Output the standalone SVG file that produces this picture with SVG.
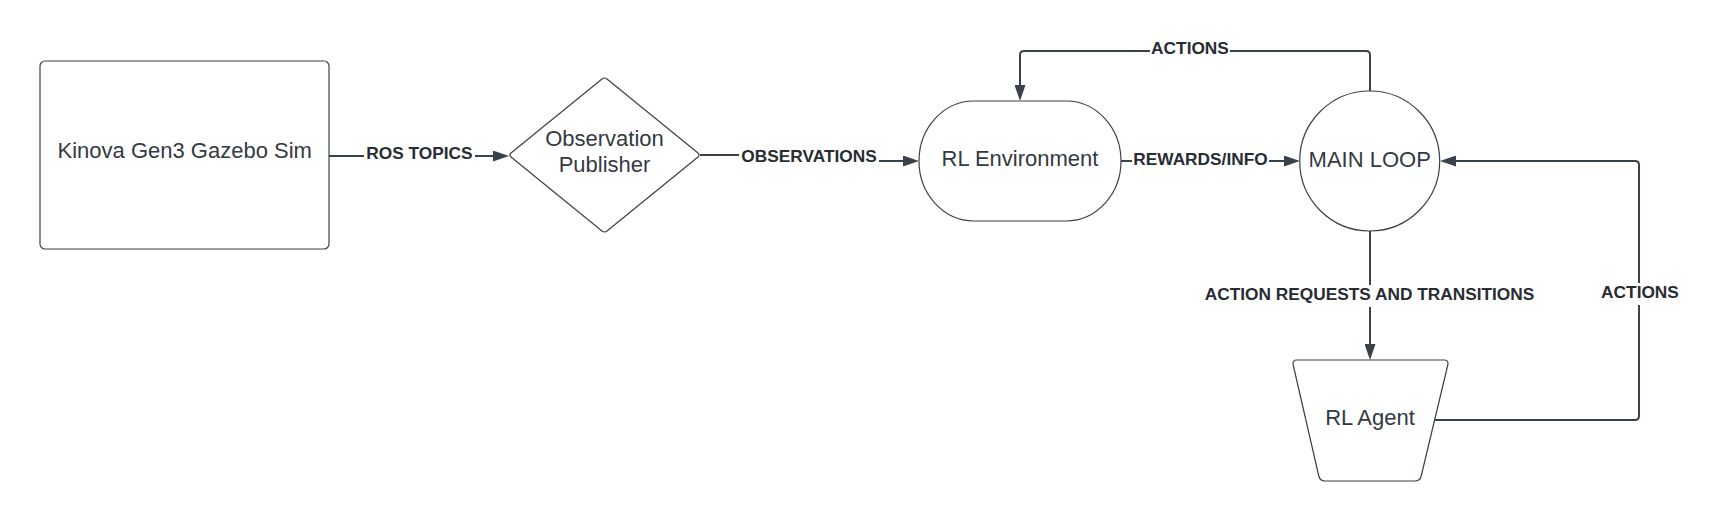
<svg xmlns="http://www.w3.org/2000/svg" width="1720" height="521" viewBox="0 0 1720 521">
<style>
.node{fill:#ffffff;stroke:#3a414a;stroke-width:1.2;stroke-linejoin:round}
.ntxt{font-family:"Liberation Sans",Arial,sans-serif;font-size:22px;fill:#333a42;text-anchor:middle}
.conn{fill:none;stroke:#3a414a;stroke-width:2}
.lbg{fill:#ffffff}
.ltxt{font-family:"Liberation Sans",Arial,sans-serif;font-size:17.3px;font-weight:bold;fill:#282c33;text-anchor:middle}
</style>
<defs>
<marker id="arr" viewBox="0 0 16 11" markerWidth="16" markerHeight="11" refX="13" refY="5.5" markerUnits="userSpaceOnUse" orient="auto">
<path d="M0,0 L16,5.5 L0,11 Z" fill="#3a414a"/>
</marker>
</defs>
<rect width="1720" height="521" fill="#ffffff"/>
<g id="connectors">
<path class="conn" d="M329,156 H506" marker-end="url(#arr)"/>
<path class="conn" d="M700,155 H809 V161 H916" marker-end="url(#arr)"/>
<path class="conn" d="M1121,161 H1297" marker-end="url(#arr)"/>
<path class="conn" d="M1370,91 V55 Q1370,51 1366,51 H1024 Q1020,51 1020,55 V98" marker-end="url(#arr)"/>
<path class="conn" d="M1370,231 V357" marker-end="url(#arr)"/>
<path class="conn" d="M1434,420 H1635 Q1639,420 1639,416 V165 Q1639,161 1635,161 H1443" marker-end="url(#arr)"/>
<g id="labels">
<rect class="lbg" x="364" y="146" width="111" height="16"/>
<text class="ltxt" x="419.5" y="159.3">ROS TOPICS</text>
<rect class="lbg" x="739" y="148" width="140" height="16"/>
<text class="ltxt" x="809" y="161.6">OBSERVATIONS</text>
<rect class="lbg" x="1132" y="151" width="137" height="16"/>
<text class="ltxt" x="1200.5" y="165">REWARDS/INFO</text>
<rect class="lbg" x="1150" y="40" width="80" height="16"/>
<text class="ltxt" x="1190" y="54">ACTIONS</text>
<rect class="lbg" x="1199" y="285" width="341" height="22"/>
<text class="ltxt" x="1369.5" y="300">ACTION REQUESTS AND TRANSITIONS</text>
<rect class="lbg" x="1600" y="283" width="80" height="22"/>
<text class="ltxt" x="1640" y="297.7">ACTIONS</text>
</g>
</g>
<g id="kinova">
<rect class="node" x="40" y="61" width="289" height="188" rx="5" ry="5"/>
<text class="ntxt" x="184.7" y="158.3">Kinova Gen3 Gazebo Sim</text>
</g>
<g id="observation-publisher">
<path class="node" d="M602,79 Q604.5,77 607,79 L698,153 Q700,155 698,157 L607,231 Q604.5,233 602,231 L511,157 Q509,155 511,153 Z"/>
<text class="ntxt" x="604.5" y="146">Observation</text>
<text class="ntxt" x="604.5" y="171.7">Publisher</text>
</g>
<g id="rl-environment">
<rect class="node" x="919" y="101" width="202" height="120" rx="55" ry="60"/>
<text class="ntxt" x="1020" y="166">RL Environment</text>
</g>
<g id="main-loop">
<circle class="node" cx="1369.7" cy="161" r="70"/>
<text class="ntxt" x="1369.7" y="167.3">MAIN LOOP</text>
</g>
<g id="rl-agent">
<path class="node" d="M1297,360 H1444 Q1449,360 1447.8,365 L1421.2,476 Q1420,481 1415,481 H1325 Q1320,481 1318.8,476 L1293.2,365 Q1292,360 1297,360 Z"/>
<text class="ntxt" x="1370" y="425">RL Agent</text>
</g>
</svg>
